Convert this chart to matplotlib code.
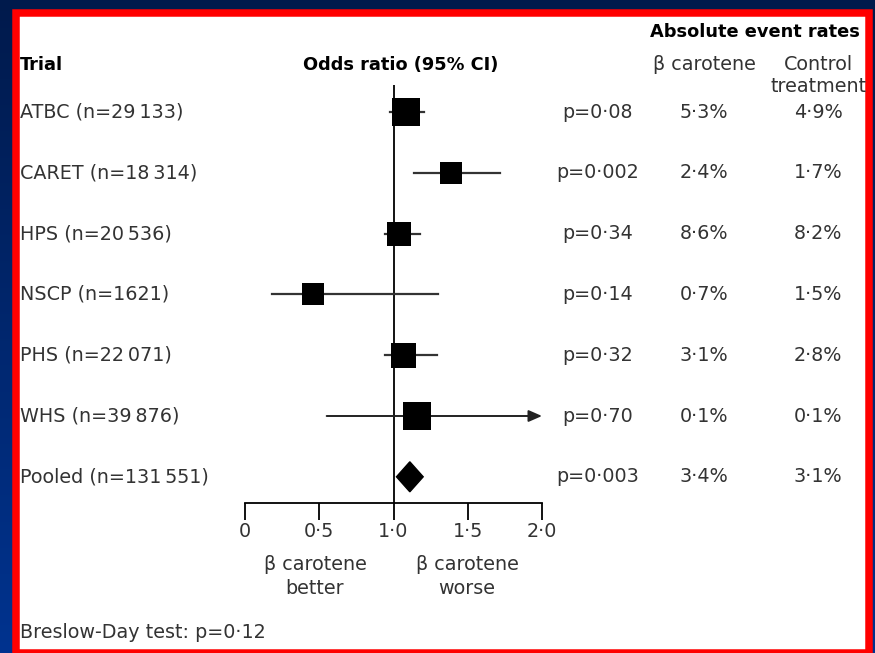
import numpy as np
import matplotlib
matplotlib.use("Agg")
import matplotlib.pyplot as plt
from matplotlib.patches import Rectangle, Polygon
from matplotlib.colors import LinearSegmentedColormap

# ---------------- data ----------------
trials = ["ATBC (n=29\u2009133)", "CARET (n=18\u2009314)", "HPS (n=20\u2009536)",
          "NSCP (n=1621)", "PHS (n=22\u2009071)", "WHS (n=39\u2009876)"]
odds = [1.085, 1.39, 1.04, 0.46, 1.065, 1.16]
ci_low = [0.976, 1.14, 0.94, 0.18, 0.94, 0.55]
ci_high = [1.207, 1.72, 1.18, 1.30, 1.29, 2.0]
ci_arrow = [False, False, False, False, False, True]
weights = [27, 23, 24, 22, 25, 28]          # box size (px) in the original
pooled_label = "Pooled (n=131\u2009551)"
pooled_or = 1.11
pooled_low = 1.02
pooled_high = 1.20
p_values = ["p=0\u00b708", "p=0\u00b7002", "p=0\u00b734", "p=0\u00b714",
            "p=0\u00b732", "p=0\u00b770", "p=0\u00b7003"]
rate_beta = ["5\u00b73%", "2\u00b74%", "8\u00b76%", "0\u00b77%", "3\u00b71%", "0\u00b71%", "3\u00b74%"]
rate_control = ["4\u00b79%", "1\u00b77%", "8\u00b72%", "1\u00b75%", "2\u00b78%", "0\u00b71%", "3\u00b71%"]
xticks = [0, 0.5, 1.0, 1.5, 2.0]
xtick_labels = ["0", "0\u00b75", "1\u00b70", "1\u00b75", "2\u00b70"]

# ---------------- figure ----------------
W, H = 875, 653
DPI = 100
plt.rcParams['font.family'] = ['DejaVu Sans']
fig = plt.figure(figsize=(W / DPI, H / DPI), dpi=DPI)

bg = fig.add_axes([0, 0, 1, 1])
bg.set_xlim(0, W)
bg.set_ylim(H, 0)
bg.axis("off")
grad = np.linspace(0, 1, 256).reshape(-1, 1)
cmap = LinearSegmentedColormap.from_list("bgc", ["#001a4c", "#00338f"])
bg.imshow(grad, cmap=cmap, extent=[0, W, H, 0], aspect="auto", zorder=0)
bg.add_patch(Rectangle((15.5, 13), 853, 640, facecolor="white",
                       edgecolor="#ff0000", linewidth=7.5 * 72 / DPI, zorder=1))

txt = "#333333"
fs = 13.8
fsb = 12.8
rows_y = [112 + 60.8 * i for i in range(7)]
labels = trials + [pooled_label]

bg.text(20, 65, "Trial", fontsize=fsb, fontweight="bold", color="black",
        ha="left", va="center", zorder=3)
bg.text(401, 65, "Odds ratio (95% CI)", fontsize=fsb, fontweight="bold", color="black",
        ha="center", va="center", zorder=3)
bg.text(755, 32, "Absolute event rates", fontsize=fsb, fontweight="bold", color="black",
        ha="center", va="center", zorder=3)
bg.text(704, 64, "\u03b2 carotene", fontsize=fs, color=txt, ha="center", va="center", zorder=3)
bg.text(818, 64, "Control", fontsize=fs, color=txt, ha="center", va="center", zorder=3)
bg.text(819, 86, "treatment", fontsize=fs, color=txt, ha="center", va="center", zorder=3)

for y, lab, p, rb, rc in zip(rows_y, labels, p_values, rate_beta, rate_control):
    bg.text(20, y, lab, fontsize=fs, color=txt, ha="left", va="center", zorder=3)
    bg.text(598, y, p, fontsize=fs, color=txt, ha="center", va="center", zorder=3)
    bg.text(704, y, rb, fontsize=fs, color=txt, ha="center", va="center", zorder=3)
    bg.text(818, y, rc, fontsize=fs, color=txt, ha="center", va="center", zorder=3)

bg.text(315, 565, "\u03b2 carotene", fontsize=fs, color=txt, ha="center", va="center", zorder=3)
bg.text(315, 588, "better", fontsize=fs, color=txt, ha="center", va="center", zorder=3)
bg.text(467, 565, "\u03b2 carotene", fontsize=fs, color=txt, ha="center", va="center", zorder=3)
bg.text(467, 588, "worse", fontsize=fs, color=txt, ha="center", va="center", zorder=3)
bg.text(20, 633, "Breslow-Day test: p=0\u00b712", fontsize=fs, color=txt,
        ha="left", va="center", zorder=3)

# ---------------- forest axes ----------------
x0_px, x2_px = 245, 542
top_px, bot_px = 85, 503
ax = fig.add_axes([x0_px / W, 1 - bot_px / H, (x2_px - x0_px) / W, (bot_px - top_px) / H])
ax.patch.set_alpha(0)
ax.set_xlim(0, 2.0)
row_step = 60.8
ax.set_ylim((bot_px - 112) / row_step, (top_px - 112) / row_step)
for s in ["left", "right", "top"]:
    ax.spines[s].set_visible(False)
ax.spines["bottom"].set_linewidth(1.3)
ax.set_yticks([])
ax.set_xticks(xticks)
ax.set_xticklabels(xtick_labels, fontsize=fs, color=txt)
ax.tick_params(axis="x", direction="out", length=12, width=1.3, pad=2)
ax.axvline(1.0, color="black", linewidth=1.3, zorder=2)

for i in range(len(trials)):
    if ci_arrow[i]:
        ax.annotate("", xy=(ci_high[i], i), xytext=(ci_low[i], i),
                    arrowprops=dict(arrowstyle="-|>,head_length=0.8,head_width=0.35",
                                    color="#222222", lw=1.4, shrinkA=0, shrinkB=0),
                    zorder=3, annotation_clip=False)
    else:
        ax.plot([ci_low[i], ci_high[i]], [i, i], color="#333333", lw=1.6, zorder=3)
    side_pt = weights[i] * 72 / DPI
    ax.plot(odds[i], i, marker="s", markersize=side_pt, color="black",
            markeredgewidth=0, zorder=4)

pi = len(trials)
half_h = 15 / row_step
ax.add_patch(Polygon([[pooled_low, pi], [pooled_or, pi - half_h],
                      [pooled_high, pi], [pooled_or, pi + half_h]],
                     closed=True, facecolor="black", edgecolor="black", zorder=4))

fig.savefig("out.png", dpi=DPI)
